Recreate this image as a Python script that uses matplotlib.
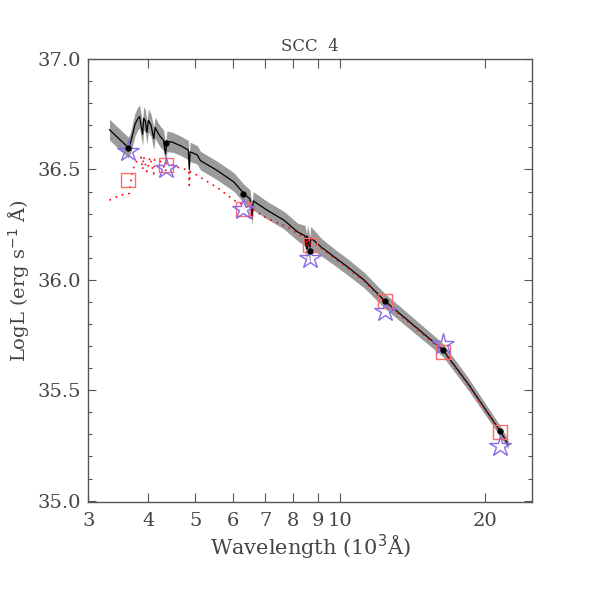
import numpy as np
import matplotlib
matplotlib.use("Agg")
import matplotlib.pyplot as plt
from matplotlib.ticker import FixedLocator, FixedFormatter, MultipleLocator, NullLocator

# model spectrum (10^3 A, log L)
model_wl = [3.32, 3.63, 3.66, 3.70, 3.75, 3.80, 3.835, 3.86, 3.889, 3.91,
            3.94, 3.97, 4.00, 4.05, 4.102, 4.13, 4.18, 4.23, 4.30, 4.34,
            4.37, 4.48, 4.66, 4.84, 4.861, 4.88, 5.05, 5.13, 5.55, 6.02,
            6.31, 6.50, 6.563, 6.60, 7.06, 7.65, 8.16, 8.45, 8.50, 8.52,
            8.54, 8.56, 8.66, 8.68, 8.86, 9.12, 9.72, 10.36, 11.22, 12.39,
            14.27, 16.34, 18.43, 21.51, 22.32]
model_logl = [36.680, 36.600, 36.612, 36.650, 36.704, 36.730, 36.740, 36.700, 36.660, 36.732,
              36.720, 36.668, 36.722, 36.700, 36.640, 36.690, 36.668, 36.650, 36.632, 36.570,
              36.627, 36.624, 36.608, 36.588, 36.500, 36.580, 36.566, 36.540, 36.496, 36.443,
              36.391, 36.366, 36.290, 36.358, 36.315, 36.270, 36.217, 36.200, 36.150, 36.198,
              36.140, 36.195, 36.130, 36.190, 36.175, 36.150, 36.104, 36.059, 35.999, 35.904,
              35.791, 35.683, 35.530, 35.314, 35.256]
# half width of the grey spread around the model
model_spread = [0.047, 0.047, 0.047, 0.05, 0.052, 0.052, 0.052, 0.052, 0.052, 0.052,
                0.052, 0.052, 0.052, 0.05, 0.05, 0.048, 0.047, 0.047, 0.047, 0.047,
                0.047, 0.045, 0.044, 0.044, 0.044, 0.044, 0.042, 0.042, 0.042, 0.042,
                0.042, 0.042, 0.042, 0.042, 0.04, 0.04, 0.04, 0.047, 0.062, 0.052,
                0.062, 0.052, 0.062, 0.052, 0.047, 0.04, 0.037, 0.037, 0.035, 0.034,
                0.032, 0.03, 0.028, 0.024, 0.022]

# second (red dotted) spectrum
red_wl = [3.32, 3.49, 3.65, 3.66, 3.70, 3.75, 3.81, 3.86, 3.889, 3.91,
          3.97, 4.03, 4.102, 4.12, 4.27, 4.34, 4.36, 4.58, 4.85, 4.861,
          4.88, 5.05, 5.60, 6.02, 6.50, 6.563, 6.60, 7.06, 7.77, 8.28,
          8.50, 8.52, 8.54, 8.56, 8.66, 8.68, 9.12, 9.72, 10.36, 11.22,
          12.39, 14.27, 16.34, 18.43, 21.51, 22.32]
red_logl = [36.361, 36.383, 36.391, 36.421, 36.480, 36.530, 36.541, 36.555, 36.500, 36.559,
            36.490, 36.556, 36.480, 36.545, 36.534, 36.490, 36.530, 36.511, 36.496, 36.428,
            36.490, 36.474, 36.413, 36.361, 36.322, 36.270, 36.318, 36.278, 36.240, 36.202,
            36.160, 36.195, 36.150, 36.190, 36.140, 36.185, 36.145, 36.098, 36.053, 35.993,
            35.898, 35.786, 35.678, 35.525, 35.310, 35.252]

# photometric points
phot_wl = [3.63, 4.34, 6.30, 8.68, 12.4, 16.35, 21.5]
phot_model = [36.599, 36.621, 36.388, 36.130, 35.906, 35.683, 35.314]
phot_square = [36.454, 36.519, 36.323, 36.157, 35.906, 35.672, 35.311]
phot_star = [36.583, 36.508, 36.323, 36.097, 35.860, 35.710, 35.246]

xticks = [3, 4, 5, 6, 7, 8, 9, 10, 20]
xticklabels = ["3", "4", "5", "6", "7", "8", "9", "10", "20"]

txt = "#444444"
plt.rcParams["font.family"] = ["DejaVu Serif"]

fig = plt.figure(figsize=(5.91, 5.91), dpi=100)
ax = fig.add_axes([0.1494, 0.150, 0.7503, 0.750])

mw = np.array(model_wl)
ml = np.array(model_logl)
ms = np.array(model_spread)
ax.fill_between(mw, ml - ms, ml + ms, color="#9a9a9a", lw=0, zorder=1)
ax.plot(mw, ml, color="black", lw=0.9, zorder=2)
ax.plot(red_wl, red_logl, color="red", lw=1.2, linestyle=(0, (1, 3)), zorder=3)

ax.plot(phot_wl, phot_square, ls="none", marker="s", ms=9.5, mfc="none",
        mec="#ff6a6a", mew=1.0, zorder=4)
ax.plot(phot_wl, phot_star, ls="none", marker="*", ms=16, mfc="none",
        mec="#8a6ae6", mew=1.0, zorder=5)
ax.plot(phot_wl, phot_model, ls="none", marker="o", ms=3.5, color="black", zorder=6)

ax.set_xscale("log")
ax.set_xlim(3, 25)
ax.set_ylim(34.992, 37.0)

ax.xaxis.set_major_locator(FixedLocator(xticks))
ax.xaxis.set_major_formatter(FixedFormatter(xticklabels))
ax.xaxis.set_minor_locator(NullLocator())
ax.yaxis.set_major_locator(MultipleLocator(0.5))
ax.yaxis.set_minor_locator(MultipleLocator(0.1))
ax.yaxis.set_major_formatter(matplotlib.ticker.FormatStrFormatter("%.1f"))

for s in ax.spines.values():
    s.set_color("#555555")
    s.set_linewidth(1.0)
ax.tick_params(which="both", direction="in", top=True, right=True,
               colors="#555555", labelcolor=txt, labelsize=14, width=0.8)
ax.tick_params(axis="x", which="major", length=6.5, pad=7)
ax.tick_params(axis="y", which="major", length=6, pad=5)
ax.tick_params(axis="y", which="minor", length=3)

ax.set_title("SCC  4", color=txt, fontsize=12, pad=6)
ax.set_xlabel("Wavelength (10$^3$Å)", color=txt, fontsize=15, labelpad=2)
ax.set_ylabel("LogL (erg s$^{-1}$ Å)", color=txt, fontsize=14, labelpad=4)

fig.savefig("out.png", dpi=100)
